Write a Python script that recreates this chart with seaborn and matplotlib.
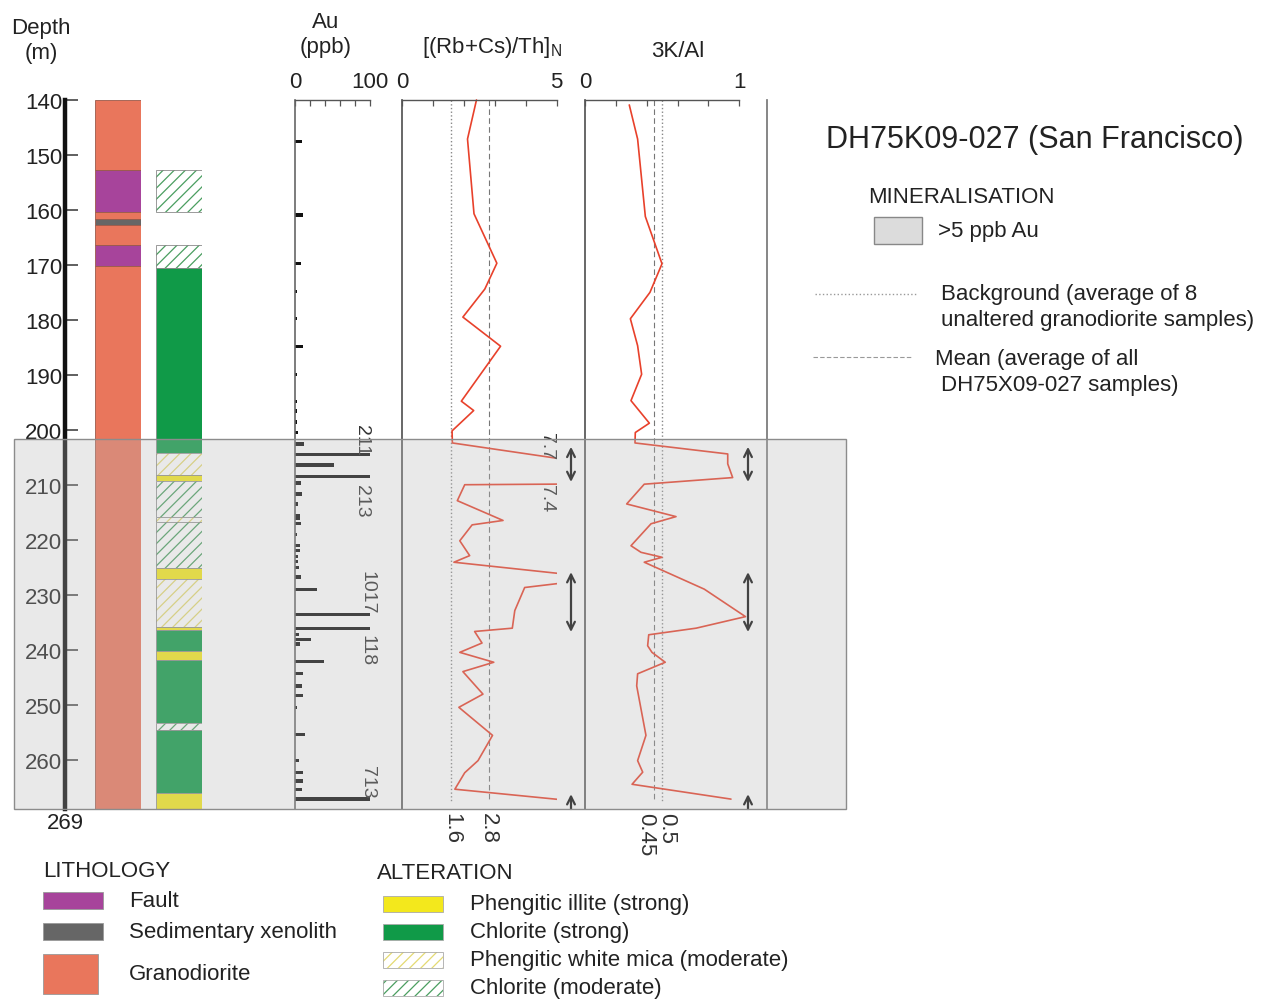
import numpy as np
import matplotlib
matplotlib.use("Agg")
import matplotlib.pyplot as plt
import seaborn as sns
from matplotlib.patches import Rectangle
from matplotlib.lines import Line2D
from matplotlib.transforms import blended_transform_factory

# ------------------------------------------------------------------ data
DEPTH_TOP, DEPTH_BOTTOM = 140, 269
depth_ticks = [140, 150, 160, 170, 180, 190, 200, 210, 220, 230, 240, 250, 260]

# mineralisation zone (>5 ppb Au)
min_top, min_bottom = 201.7, 269

# lithology intervals
litho_top = [140, 152.7, 160.3, 161.6, 162.7, 166.3, 170.2]
litho_bottom = [152.7, 160.3, 161.6, 162.7, 166.3, 170.2, 269]
litho_type = ["Granodiorite", "Fault", "Granodiorite", "Sedimentary xenolith",
              "Granodiorite", "Fault", "Granodiorite"]

# alteration intervals
alt_top = [152.7, 166.3, 170.6, 204.2, 208.2, 209.3, 215.9, 216.8, 225.2, 227.2,
           235.8, 236.4, 240.2, 241.8, 253.4, 254.6, 266.1]
alt_bottom = [160.3, 170.6, 204.2, 208.2, 209.3, 215.9, 216.8, 225.2, 227.2, 235.8,
              236.4, 240.2, 241.8, 253.4, 254.6, 266.1, 269]
alt_type = ["Chlorite (moderate)", "Chlorite (moderate)", "Chlorite (strong)",
            "Phengitic white mica (moderate)", "Phengitic illite (strong)",
            "Chlorite (moderate)", "Phengitic white mica (moderate)", "Chlorite (moderate)",
            "Phengitic illite (strong)", "Phengitic white mica (moderate)",
            "Phengitic illite (strong)", "Chlorite (strong)", "Phengitic illite (strong)",
            "Chlorite (strong)", "Chlorite (moderate)", "Chlorite (strong)",
            "Phengitic illite (strong)"]

# Au (ppb)
au_depth = [147.5, 160.9, 169.8, 174.9, 179.8, 184.9, 189.9, 194.8, 196.6, 198.6,
            200.5, 202.6, 204.5, 206.4, 208.5, 209.7, 211.7, 213.5, 215.6, 216.1,
            217.0, 219.0, 221.1, 222.0, 223.1, 224.0, 225.1, 226.8, 229.1, 233.6,
            236.1, 237.2, 238.2, 239.0, 242.1, 244.4, 246.6, 248.4, 250.5, 255.4,
            260.2, 262.3, 263.9, 265.4, 267.2]
au_ppb = [9, 11, 7.5, 3, 3, 10, 3, 3, 3, 3,
          4, 12, 211, 52, 213, 7.5, 9, 3.5, 6.5, 6,
          8, 3, 7, 6.5, 4, 4.5, 5.5, 8, 29, 1017,
          118, 5, 21, 6, 38, 10, 9, 10, 3, 13,
          5, 10, 10, 9, 713]
au_label_text = ["211", "213", "1017", "118", "713"]
au_label_depth = [201.7, 212.8, 229.5, 239.9, 263.9]
au_label_x = [89, 89, 96, 96, 96]

# [(Rb+Cs)/Th]N
rb_depth = [140, 147.1, 160.7, 169.7, 174.4, 179.5, 184.8, 194.8, 196.5, 200.2,
            202.4, 207.4, 209.8, 210.0, 212.9, 216.5, 217.3, 220.2, 222.9, 224.1,
            227.0, 228.7, 232.9, 236.1, 236.7, 238.8, 240.5, 242.3, 244.0, 248.1,
            250.5, 255.6, 260.2, 262.4, 265.4, 267.5]
rb_val = [2.41, 2.12, 2.33, 3.07, 2.68, 1.97, 3.19, 1.92, 2.32, 1.62,
          1.63, 7.7, 7.4, 2.03, 1.79, 3.27, 2.27, 1.87, 2.19, 1.68,
          6.5, 3.97, 3.65, 3.57, 2.35, 2.59, 1.87, 2.97, 1.97, 2.62,
          1.84, 2.93, 2.46, 2.03, 1.71, 5.5]
rb_background, rb_mean = 1.6, 2.8
rb_offscale_text = ["7.7", "7.4"]
rb_offscale_depth = [202.8, 212.4]

# 3K/Al
k_depth = [140.9, 147.1, 161.2, 169.8, 175.0, 179.8, 184.7, 189.9, 194.7, 198.8,
           200.5, 202.4, 204.4, 206.2, 208.7, 209.9, 213.5, 215.8, 217.1, 221.1,
           222.3, 223.2, 224.1, 229.0, 234.0, 236.1, 237.3, 239.3, 240.5, 242.3,
           244.4, 246.6, 255.6, 260.2, 262.3, 264.5, 267.2]
k_val = [0.287, 0.341, 0.391, 0.499, 0.421, 0.294, 0.341, 0.367, 0.298, 0.417,
         0.326, 0.324, 0.925, 0.925, 0.957, 0.384, 0.27, 0.59, 0.428, 0.298,
         0.363, 0.499, 0.384, 0.773, 1.04, 0.72, 0.413, 0.406, 0.434, 0.52,
         0.341, 0.335, 0.395, 0.341, 0.374, 0.305, 0.946]
k_background, k_mean = 0.5, 0.45

# anomaly arrows (depth ranges)
arrow_ranges = [(203.1, 209.5), (225.9, 236.8)]
arrow_up = (266.3, 269)

# ------------------------------------------------------------------ style
sns.set_theme(style="white")
plt.rcParams["font.family"] = ["Liberation Sans", "DejaVu Sans"]
plt.rcParams["mathtext.default"] = "regular"
plt.rcParams["hatch.linewidth"] = 0.9

FS = 16
RED = "#e8412b"
litho_colors = {"Granodiorite": "#e9765c", "Fault": "#a7449b",
                "Sedimentary xenolith": "#666666"}
alt_style = {
    "Phengitic illite (strong)": dict(face="#f3e81c", hatch=None, hc=None),
    "Chlorite (strong)": dict(face="#109a48", hatch=None, hc=None),
    "Phengitic white mica (moderate)": dict(face="white", hatch="///", hc="#e4da72"),
    "Chlorite (moderate)": dict(face="white", hatch="///", hc="#4a9e60"),
}

W, H = 1262, 1003
fig = plt.figure(figsize=(W / 100, H / 100), dpi=100)
fig.patch.set_facecolor("white")

Y0, Y1 = 101, 810


def px_axes(x0, x1, y0=Y0, y1=Y1):
    ax = fig.add_axes([x0 / W, 1 - y1 / H, (x1 - x0) / W, (y1 - y0) / H])
    ax.set_facecolor("none")
    ax.set_ylim(DEPTH_BOTTOM, DEPTH_TOP)
    for s in ax.spines.values():
        s.set_visible(False)
    ax.set_yticks([])
    ax.set_xticks([])
    return ax


def draw_interval(ax, top, bottom, face, hatch=None, hc=None, edge="#777777", lw=0.6):
    if hatch:
        ax.add_patch(Rectangle((0, top), 1, bottom - top, facecolor=face,
                               edgecolor=hc, hatch=hatch, lw=0))
        ax.add_patch(Rectangle((0, top), 1, bottom - top, fill=False,
                               edgecolor=edge, lw=lw))
    else:
        ax.add_patch(Rectangle((0, top), 1, bottom - top, facecolor=face,
                               edgecolor=edge, lw=lw))


# ---------------- depth axis
ax_d = px_axes(65, 90)
ax_d.set_xlim(0, 1)
ax_d.spines["left"].set_visible(True)
ax_d.spines["left"].set_linewidth(3.2)
ax_d.spines["left"].set_color("#111111")
ax_d.set_yticks(depth_ticks)
ax_d.set_yticklabels([str(t) for t in depth_ticks])
ax_d.tick_params(axis="y", direction="in", length=9.5, width=1.2, color="#444444",
                 labelsize=FS, pad=2, labelcolor="#222222", left=True)
ax_d.annotate("269", (0, DEPTH_BOTTOM), xytext=(0, -2), textcoords="offset points",
              ha="center", va="top", fontsize=FS, color="#222222", annotation_clip=False)

# ---------------- lithology column
ax_l = px_axes(95, 141)
ax_l.set_xlim(0, 1)
for t, b, k in zip(litho_top, litho_bottom, litho_type):
    draw_interval(ax_l, t, b, litho_colors[k], edge="#9a5a4a", lw=0.6)

# ---------------- alteration column
ax_a = px_axes(156, 202)
ax_a.set_xlim(0, 1)
for t, b, k in zip(alt_top, alt_bottom, alt_type):
    st = alt_style[k]
    draw_interval(ax_a, t, b, st["face"], st["hatch"], st["hc"], edge="#8a8a8a", lw=0.6)

# ---------------- Au
ax_au = px_axes(295, 370)
ax_au.set_xlim(0, 100)
ax_au.barh(au_depth, au_ppb, height=0.6, left=0, color="#111111", edgecolor="none")
ax_au.spines["left"].set_visible(True)
ax_au.spines["left"].set_color("#666666")
ax_au.spines["left"].set_linewidth(1.2)
for i, txt in enumerate(au_label_text):
    ax_au.text(au_label_x[i], au_label_depth[i], txt, rotation=-90, ha="center",
               va="center", fontsize=14, color="#333333", clip_on=False)


def top_axis(ax, ticks, labels, hi):
    ax.spines["top"].set_visible(True)
    ax.spines["top"].set_bounds(0, hi)
    ax.spines["top"].set_color("#555555")
    ax.spines["top"].set_linewidth(1.0)
    ax.xaxis.tick_top()
    ax.set_xticks(ticks)
    ax.set_xticklabels(labels)
    ax.tick_params(axis="x", direction="in", length=4, width=0.9, color="#555555",
                   labelsize=FS, pad=6, top=True, bottom=False, labelcolor="#222222")


top_axis(ax_au, [0, 20, 40, 60, 80, 100], ["0", "", "", "", "", "100"], 100)

# ---------------- (Rb+Cs)/Th
ax_rb = px_axes(402, 585)
ax_rb.set_xlim(0, 183 / 30.9)
ax_rb.spines["left"].set_visible(True)
ax_rb.spines["left"].set_color("#555555")
ax_rb.vlines(rb_background, DEPTH_TOP, 267.5, colors="#888888", linestyles=":", lw=1.0)
ax_rb.vlines(rb_mean, DEPTH_TOP, 267.5, colors="#777777", linestyles=(0, (5, 3)), lw=0.8)
sns.lineplot(x=rb_val, y=rb_depth, sort=False, estimator=None, orient="y",
             color=RED, lw=1.2, ax=ax_rb)
clip_rb = Rectangle((0, 100), 5, 200, transform=ax_rb.transData)
ax_rb.lines[-1].set_clip_path(clip_rb)
top_axis(ax_rb, [0, 1, 2, 3, 4, 5], ["0", "", "", "", "", "5"], 5)
ax_rb.set_ylim(DEPTH_BOTTOM, DEPTH_TOP)
ax_rb.set_xlabel("")
ax_rb.set_ylabel("")
for txt, d in zip(rb_offscale_text, rb_offscale_depth):
    ax_rb.text(4.68, d, txt, rotation=-90, ha="center", va="center", fontsize=14,
               color="#333333")
ax_rb.annotate(f"{rb_background:.1f}", (rb_background, DEPTH_BOTTOM), xytext=(0, -2),
               textcoords="offset points", rotation=-90, ha="center", va="top",
               fontsize=FS, color="#333333", annotation_clip=False)
ax_rb.annotate(f"{rb_mean:.1f}", (rb_mean, DEPTH_BOTTOM), xytext=(0, -2),
               textcoords="offset points", rotation=-90, ha="center", va="top",
               fontsize=FS, color="#333333", annotation_clip=False)

# ---------------- 3K/Al
ax_k = px_axes(585, 767)
ax_k.set_xlim(0, 182 / 154.3)
ax_k.spines["left"].set_visible(True)
ax_k.spines["left"].set_color("#555555")
ax_k.spines["right"].set_visible(True)
ax_k.spines["right"].set_color("#777777")
ax_k.vlines(k_background, DEPTH_TOP, 267.5, colors="#888888", linestyles=":", lw=1.0)
ax_k.vlines(k_mean, DEPTH_TOP, 267.5, colors="#777777", linestyles=(0, (5, 3)), lw=0.8)
sns.lineplot(x=k_val, y=k_depth, sort=False, estimator=None, orient="y",
             color=RED, lw=1.2, ax=ax_k)
top_axis(ax_k, [0, 0.2, 0.4, 0.6, 0.8, 1.0], ["0", "", "", "", "", "1"], 1)
ax_k.set_ylim(DEPTH_BOTTOM, DEPTH_TOP)
ax_k.set_xlabel("")
ax_k.set_ylabel("")
ax_k.annotate(f"{k_mean:.2f}", (k_mean, DEPTH_BOTTOM), xytext=(-6, -2),
              textcoords="offset points", rotation=-90, ha="center", va="top",
              fontsize=FS, color="#333333", annotation_clip=False)
ax_k.annotate(f"{k_background:.1f}", (k_background, DEPTH_BOTTOM), xytext=(3, -2),
              textcoords="offset points", rotation=-90, ha="center", va="top",
              fontsize=FS, color="#333333", annotation_clip=False)

# arrows
for ax, xa in [(ax_rb, (571 - 402) / 30.9), (ax_k, (748 - 585) / 154.3)]:
    for a, b in arrow_ranges:
        ax.annotate("", xy=(xa, a), xytext=(xa, b),
                    arrowprops=dict(arrowstyle="<->", lw=1.6, color="#111111",
                                    mutation_scale=14, shrinkA=0, shrinkB=0))
    ax.annotate("", xy=(xa, arrow_up[0]), xytext=(xa, arrow_up[1]),
                arrowprops=dict(arrowstyle="->", lw=1.6, color="#111111",
                                mutation_scale=14, shrinkA=0, shrinkB=0),
                annotation_clip=False)

# ---------------- mineralisation overlay
trans = blended_transform_factory(fig.transFigure, ax_rb.transData)
fig.add_artist(Rectangle((14 / W, min_top), (846 - 14) / W, min_bottom - min_top,
                         transform=trans, facecolor=(0.72, 0.72, 0.72, 0.3),
                         edgecolor="#8c8c8c", lw=1.0, zorder=10))

# ---------------- annotation layer (headers & legends)
ov = fig.add_axes([0, 0, 1, 1])
ov.set_xlim(0, W)
ov.set_ylim(H, 0)
ov.axis("off")
ov.set_facecolor("none")
tc = "#222222"
ov.text(41, 28, "Depth", ha="center", va="center", fontsize=FS, color=tc)
ov.text(41, 53, "(m)", ha="center", va="center", fontsize=FS, color=tc)
ov.text(326, 22, "Au", ha="center", va="center", fontsize=FS, color=tc)
ov.text(326, 47, "(ppb)", ha="center", va="center", fontsize=FS, color=tc)
ov.text(492, 47, r"[(Rb+Cs)/Th]$_{\mathregular{N}}$", ha="center", va="center",
        fontsize=FS, color=tc)
ov.text(678, 51, "3K/Al", ha="center", va="center", fontsize=FS, color=tc)

ov.text(826, 140, "DH75K09-027 (San Francisco)", ha="left", va="center", fontsize=22,
        color=tc)
ov.text(868, 197, "MINERALISATION", ha="left", va="center", fontsize=FS, color=tc)
ov.add_patch(Rectangle((874, 218), 48, 27, facecolor="#dcdcdc", edgecolor="#888888",
                       lw=1.0))
ov.text(938, 231, ">5 ppb Au", ha="left", va="center", fontsize=FS, color=tc)
ov.add_line(Line2D([815, 918], [295, 295], color="#999999", lw=1.0, ls=":"))
ov.text(941, 294, "Background (average of 8", ha="left", va="center", fontsize=FS,
        color=tc)
ov.text(941, 320, "unaltered granodiorite samples)", ha="left", va="center",
        fontsize=FS, color=tc)
ov.add_line(Line2D([813, 911], [358, 358], color="#999999", lw=0.8, ls=(0, (4, 2))))
ov.text(935, 359, "Mean (average of all", ha="left", va="center", fontsize=FS, color=tc)
ov.text(941, 385, "DH75X09-027 samples)", ha="left", va="center", fontsize=FS,
        color=tc)

# lithology legend
ov.text(43, 872, "LITHOLOGY", ha="left", va="center", fontsize=FS, color=tc)
litho_leg = [("Fault", 893, 17, 60), ("Sedimentary xenolith", 924, 17, 60),
             ("Granodiorite", 955, 40, 55)]
for name, y, h, w in litho_leg:
    ov.add_patch(Rectangle((43, y), w, h, facecolor=litho_colors[name],
                           edgecolor="#999999", lw=0.6))
    ov.text(129, y + h / 2, name, ha="left", va="center", fontsize=FS, color=tc)

# alteration legend
ov.text(377, 874, "ALTERATION", ha="left", va="center", fontsize=FS, color=tc)
alt_leg = ["Phengitic illite (strong)", "Chlorite (strong)",
           "Phengitic white mica (moderate)", "Chlorite (moderate)"]
for i, name in enumerate(alt_leg):
    yc = 905 + i * 28
    y = yc - 8
    st = alt_style[name]
    if st["hatch"]:
        ov.add_patch(Rectangle((383, y), 60, 16, facecolor="white", edgecolor=st["hc"],
                               hatch=st["hatch"], lw=0))
        ov.add_patch(Rectangle((383, y), 60, 16, fill=False, edgecolor="#aaaaaa",
                               lw=0.6))
    else:
        ov.add_patch(Rectangle((383, y), 60, 16, facecolor=st["face"],
                               edgecolor="#aaaaaa", lw=0.6))
    ov.text(470, yc, name, ha="left", va="center", fontsize=FS, color=tc)

fig.savefig("out.png", dpi=100, facecolor="white")
